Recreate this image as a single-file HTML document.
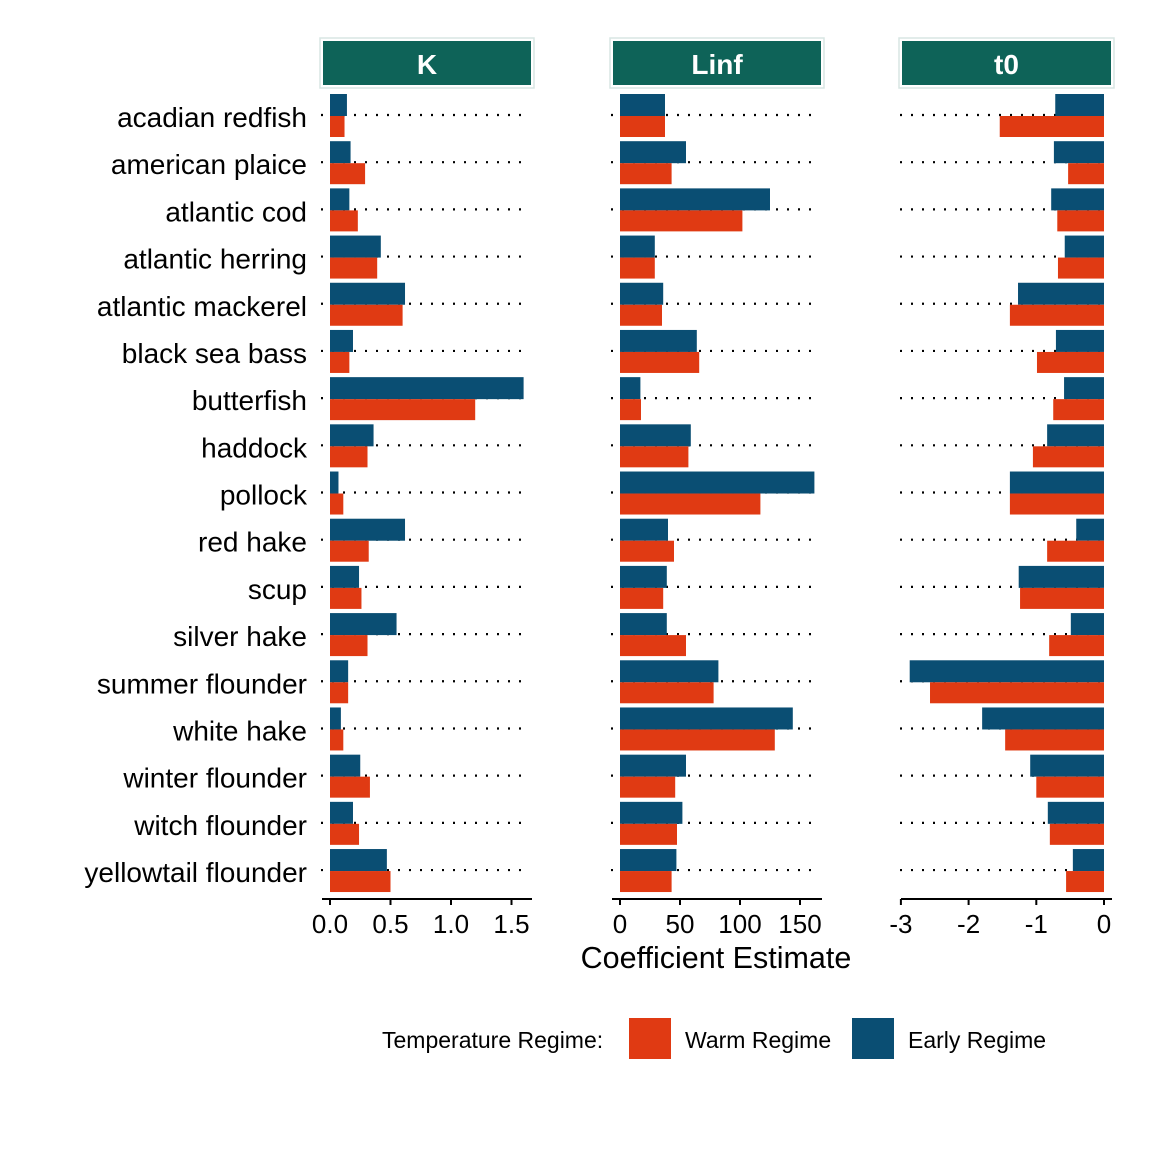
<!DOCTYPE html>
<html><head><meta charset="utf-8"><style>
html,body{margin:0;padding:0;background:#fff;}
svg{display:block;font-family:"Liberation Sans",Arial,sans-serif;}
</style></head><body>
<svg id="chart" width="1152" height="1152" viewBox="0 0 1152 1152" xmlns="http://www.w3.org/2000/svg"></svg>
<script>
const species = ["acadian redfish","american plaice","atlantic cod","atlantic herring","atlantic mackerel","black sea bass","butterfish","haddock","pollock","red hake","scup","silver hake","summer flounder","white hake","winter flounder","witch flounder","yellowtail flounder"];
const kEarly = [0.14,0.17,0.16,0.42,0.62,0.19,1.60,0.36,0.07,0.62,0.24,0.55,0.15,0.09,0.25,0.19,0.47];
const kWarm  = [0.12,0.29,0.23,0.39,0.60,0.16,1.20,0.31,0.11,0.32,0.26,0.31,0.15,0.11,0.33,0.24,0.50];
const linfEarly = [37.5,55,125,29,36,64,17,59,162,40,39,39,82,144,55,52,47];
const linfWarm  = [37.5,43,102,29,35,66,17.5,57,117,45,36,55,78,129,46,47.5,43];
const t0Early = [-0.72,-0.74,-0.78,-0.58,-1.27,-0.71,-0.59,-0.84,-1.39,-0.41,-1.26,-0.49,-2.87,-1.80,-1.09,-0.83,-0.46];
const t0Warm  = [-1.54,-0.53,-0.69,-0.68,-1.39,-0.99,-0.75,-1.05,-1.39,-0.84,-1.24,-0.81,-2.57,-1.46,-1.00,-0.80,-0.56];
const kTicks = [0,0.5,1.0,1.5];
const kTickLabels = ["0.0","0.5","1.0","1.5"];
const linfTicks = [0,50,100,150];
const linfTickLabels = ["0","50","100","150"];
const t0Ticks = [-3,-2,-1,0];
const t0TickLabels = ["-3","-2","-1","0"];

const NS="http://www.w3.org/2000/svg";
const svg=document.getElementById('chart');
function mk(tag,attrs,parent){const e=document.createElementNS(NS,tag);for(const k in attrs)e.setAttribute(k,attrs[k]);(parent||svg).appendChild(e);return e;}
const BLUE="#0a4e73", RED="#e03a13", HEAD="#0e6358";
function yc(i){return 117+i*47.19;}

species.forEach((s,i)=>{
  const t=mk('text',{x:307,y:yc(i)+10,'text-anchor':'end','font-size':28,fill:'#000'});
  t.textContent=s;
  
  
});

const panels=[
 {name:'K',x0:322,x1:532,sx:v=>330+v*121,early:kEarly,warm:kWarm,ticks:kTicks,labels:kTickLabels,base:0},
 {name:'Linf',x0:612,x1:822,sx:v=>620+v*1.2,early:linfEarly,warm:linfWarm,ticks:linfTicks,labels:linfTickLabels,base:0},
 {name:'t0',x0:901,x1:1112,sx:v=>1104+v*67.7,early:t0Early,warm:t0Warm,ticks:t0Ticks,labels:t0TickLabels,base:0}
];
panels.forEach(p=>{
  const g=mk('g',{});
  
  
  mk('rect',{x:p.x0-2,y:38,width:p.x1-p.x0+4,height:50,fill:'#fff',stroke:'#d8e6e3','stroke-width':1.5},g);
  const hr=mk('rect',{x:p.x0+1,y:41,width:p.x1-p.x0-2,height:44,fill:HEAD},g);
  
  
  const ht=mk('text',{x:(p.x0+p.x1)/2,y:74,'text-anchor':'middle','font-size':28,'font-weight':'bold',fill:'#fff'},g);
  ht.textContent=p.name;
  species.forEach((s,i)=>{
    const l=mk('line',{x1:p.x0-1,x2:p.x1-4,y1:yc(i)-2,y2:yc(i)-2,stroke:'#000','stroke-width':2.2,'stroke-dasharray':'2 9'},g);
    
    
  });
  const b=p.sx(p.base);
  species.forEach((s,i)=>{
    const ve=p.sx(p.early[i]), vw=p.sx(p.warm[i]);
    const re=mk('rect',{x:Math.min(b,ve),y:yc(i)-23,width:Math.abs(ve-b),height:22,fill:BLUE},g);
    
    
    const rw=mk('rect',{x:Math.min(b,vw),y:yc(i)-1,width:Math.abs(vw-b),height:21,fill:RED},g);
    
    
  });
  const ax=mk('line',{x1:p.x0,x2:p.x1,y1:899,y2:899,stroke:'#000','stroke-width':2},g);
  
  
  p.ticks.forEach((v,j)=>{
    const x=p.sx(v);
    mk('line',{x1:x,x2:x,y1:899,y2:905,stroke:'#000','stroke-width':2},g);
    const t=mk('text',{x:x,y:933,'text-anchor':'middle','font-size':26,fill:'#000'},g);
    t.textContent=p.labels[j];
    
    
  });
});
const xt=mk('text',{x:716,y:968,'text-anchor':'middle','font-size':30.5,fill:'#000'});
xt.textContent="Coefficient Estimate";



const lg=mk('g',{});


const lt=mk('text',{x:382,y:1048,'font-size':23,fill:'#000'},lg);
lt.textContent="Temperature Regime:";
const k1=mk('rect',{x:629,y:1018,width:42,height:41,fill:RED},lg);


const t1=mk('text',{x:685,y:1048,'font-size':23,fill:'#000'},lg);
t1.textContent="Warm Regime";
const k2=mk('rect',{x:852,y:1018,width:42,height:41,fill:BLUE},lg);


const t2=mk('text',{x:908,y:1048,'font-size':23,fill:'#000'},lg);
t2.textContent="Early Regime";
</script>
</body></html>
